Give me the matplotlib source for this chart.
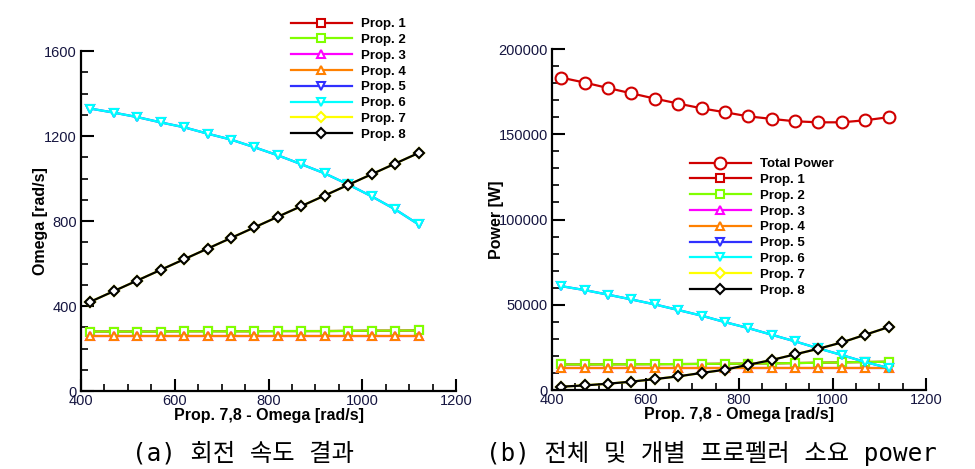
import numpy as np
import matplotlib
matplotlib.use("Agg")
import matplotlib.pyplot as plt
from matplotlib.ticker import MultipleLocator

plt.rcParams['font.family'] = ['Liberation Sans', 'DejaVu Sans']

# Prop. 7,8 rotational speed (x axis)
omega78 = [420, 470, 520, 570, 620, 670, 720, 770, 820, 870, 920, 970, 1020, 1070, 1120]

# (a) rotational speed of each propeller [rad/s]
omega12 = [280, 280, 280, 280, 281, 281, 281, 281, 282, 282, 282, 283, 284, 284, 285]
omega34 = [260, 260, 260, 260, 260, 260, 260, 260, 260, 260, 260, 260, 260, 260, 260]
omega56 = [1329, 1310, 1289, 1264, 1241, 1211, 1183, 1147, 1109, 1067, 1024, 972, 916, 855, 784]

# (b) power [W]
total_power = [183200, 180300, 177100, 174000, 170900, 168000, 165200, 162900,
               160500, 159000, 157600, 157000, 157000, 158200, 160000]
power12 = [15000, 15000, 15050, 15100, 15150, 15200, 15300, 15400,
           15500, 15600, 15800, 16000, 16200, 16400, 16600]
power34 = [12900, 12900, 12900, 12900, 12900, 12900, 12900, 12900,
           12900, 12900, 12900, 12900, 12900, 12900, 12900]
power56 = [60900, 58600, 55900, 53100, 50200, 46900, 43600, 39800,
           36300, 32400, 28500, 24400, 20500, 16400, 12900]
power78 = [1950, 2700, 3700, 4900, 6400, 8000, 10000, 11900,
           14800, 17600, 20900, 24200, 27900, 32400, 36900]

labels = ['Prop. 1', 'Prop. 2', 'Prop. 3', 'Prop. 4', 'Prop. 5', 'Prop. 6', 'Prop. 7', 'Prop. 8']
colors = ['#d00000', '#80ff00', '#ff00ff', '#ff8000', '#3030ff', '#00ffff', '#ffff00', 'black']
markers = ['s', 's', '^', '^', 'v', 'v', 'D', 'D']

tick_col = '#151540'

fig = plt.figure(figsize=(9.75, 4.69), dpi=100)
W, H = 975, 469


def make_ax(x0, y0, x1, y1):
    ax = fig.add_axes([x0 / W, 1 - y1 / H, (x1 - x0) / W, (y1 - y0) / H])
    for s in ['top', 'right']:
        ax.spines[s].set_visible(False)
    for s in ['left', 'bottom']:
        ax.spines[s].set_linewidth(1.6)
    ax.tick_params(which='major', direction='in', length=9, width=1.5,
                   labelsize=10.5, labelcolor=tick_col, pad=3)
    ax.tick_params(which='minor', direction='in', length=5, width=1.2)
    ax.tick_params(axis='x', pad=2)
    ax.set_xlim(400, 1200)
    ax.xaxis.set_major_locator(MultipleLocator(200))
    ax.xaxis.set_minor_locator(MultipleLocator(50))
    ax.set_xlabel('Prop. 7,8 - Omega [rad/s]', fontsize=11.5, fontweight='bold', labelpad=0)
    return ax


def series(ax, y, color, marker, label, ms=6.2):
    ms_use = ms - 0.8 if marker == 'D' else ms
    ax.plot(omega78, y, color=color, lw=1.6, marker=marker, ms=ms_use,
            mfc='white', mec=color, mew=1.5, label=label)


leg_kw = dict(bbox_transform=fig.transFigure, frameon=False, loc='upper left',
              prop={'weight': 'bold', 'size': 9.5}, handlelength=4.6,
              handletextpad=0.7, labelspacing=0.27, borderpad=0, borderaxespad=0)

# (a)
ax1 = make_ax(81, 51, 456, 391)
ax1.set_ylim(0, 1600)
ax1.yaxis.set_major_locator(MultipleLocator(400))
ax1.yaxis.set_minor_locator(MultipleLocator(100))
ax1.set_ylabel('Omega [rad/s]', fontsize=11.5, fontweight='bold', labelpad=-3)
ys_a = [omega12, omega12, omega34, omega34, omega56, omega56, omega78, omega78]
for y, c, m, lab in zip(ys_a, colors, markers, labels):
    series(ax1, y, c, m, lab)
ax1.legend(bbox_to_anchor=(291 / W, 1 - 18 / H), **leg_kw)

# (b)
ax2 = make_ax(552, 49, 926, 390)
ax2.set_ylim(0, 200000)
ax2.yaxis.set_major_locator(MultipleLocator(50000))
ax2.yaxis.set_minor_locator(MultipleLocator(10000))
ax2.set_ylabel('Power [W]', fontsize=11.5, fontweight='bold', labelpad=-4)
series(ax2, total_power, '#d00000', 'o', 'Total Power', ms=8.5)
ys_b = [power12, power12, power34, power34, power56, power56, power78, power78]
for y, c, m, lab in zip(ys_b, colors, markers, labels):
    series(ax2, y, c, m, lab)
ax2.legend(bbox_to_anchor=(690 / W, 1 - 158 / H), **leg_kw)

cap_font = ['DejaVu Sans Mono', 'Noto Sans CJK KR']
fig.text(243 / W, 1 - 453 / H, '(a) 회전 속도 결과', ha='center', va='center',
         fontsize=17.5, family=cap_font)
fig.text(711 / W, 1 - 453 / H, '(b) 전체 및 개별 프로펠러 소요 power', ha='center',
         va='center', fontsize=17.5, family=cap_font)

fig.savefig('out.png', dpi=100)
